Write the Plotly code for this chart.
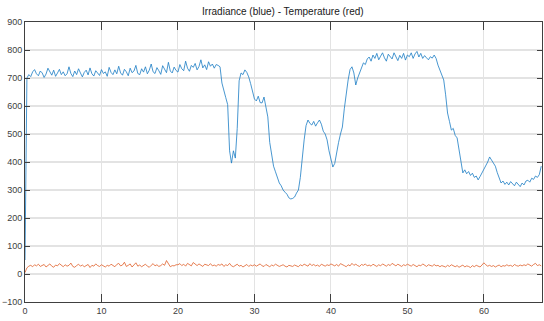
import plotly.graph_objects as go

# time axis (step 0.25 from 0 to 67.5)
time = [i * 0.25 for i in range(271)]

irradiance = [
    50, 700, 712, 705, 722, 730, 715, 708, 725, 718, 702, 714, 735, 720, 710, 728, 706, 718, 731, 712,
    722, 708, 715, 740, 716, 705, 725, 712, 733, 718, 704, 720, 728, 711, 736, 715, 707, 726, 719, 709,
    730, 716, 722, 706, 738, 720, 712, 729, 715, 742, 718, 710, 731, 722, 708, 735, 719, 725, 745, 716,
    712, 733, 721, 740, 715, 728, 750, 722, 716, 737, 726, 713, 744, 729, 719, 756, 725, 718, 739, 727,
    721, 748, 733, 726, 760, 735, 724, 745, 738, 752, 729, 741, 765, 736, 747, 730, 758, 742, 750, 735,
    748, 745, 740, 682, 660, 630, 605, 440, 396, 440, 414, 520, 690, 718, 712, 729, 720, 704, 680, 646,
    625, 618, 635, 612, 611, 632, 600, 561, 470, 418, 385, 365, 340, 325, 315, 300, 292, 285, 272, 268,
    270, 275, 289, 300, 345, 420, 479, 530, 550, 538, 532, 545, 528, 540, 550, 535, 510, 500, 479, 440,
    407, 382, 395, 440, 470, 500, 525, 590, 650, 693, 730, 740, 718, 675, 700, 718, 740, 754, 748, 768,
    775, 760, 782, 770, 788, 765, 778, 790, 772, 760, 785, 774, 768, 790, 778, 762, 781, 770, 788, 764,
    782, 776, 790, 770, 786, 795, 775, 788, 770, 780, 772, 765, 776, 771, 782, 770, 746, 730, 710, 693,
    640, 575, 545, 514, 520, 495, 486, 440, 395, 361, 372, 358, 366, 352, 360, 345, 350, 336, 348, 360,
    372, 385, 400, 418, 408, 395, 385, 362, 340, 325, 332, 320, 328, 318, 330, 322, 315, 328, 320, 312,
    325, 318, 332, 335, 328, 342, 338, 350, 345, 355, 385,
]

temperature = [
    5, 22, 28, 31, 26, 33, 29, 35, 27, 30, 34, 25, 31, 36, 28, 24, 32, 29, 37, 30,
    26, 33, 28, 31, 39, 27, 24, 30, 35, 28, 32, 26, 29, 34, 23, 31, 28, 36, 30, 27,
    33, 29, 25, 31, 28, 35, 30, 26, 34, 38, 29, 32, 42, 27, 31, 36, 25, 33, 40, 28,
    32, 26, 30, 35, 28, 24, 31, 37, 29, 33, 27, 30, 36, 31, 48, 34, 26, 30, 29, 33,
    33, 37, 30, 35, 28, 38, 32, 29, 41, 34, 30, 36, 31, 27, 35, 33, 30, 37, 29, 32,
    28, 34, 31, 36, 27, 33, 30, 38, 29, 26, 32, 35, 28, 31, 25, 30, 34, 27, 32, 29,
    33, 28, 31, 36, 29, 27, 34, 30, 26, 32, 29, 35, 31, 27, 30, 33, 28, 25, 31, 29,
    27, 32, 30, 26, 33, 29, 35, 31, 28, 37, 30, 34, 29, 32, 27, 35, 31, 28, 33, 30,
    36, 31, 29, 34, 28, 37, 32, 30, 26, 33, 29, 38, 31, 35, 30, 27, 34, 31, 36, 29,
    32, 28, 35, 30, 27, 33, 29, 36, 31, 28, 34, 30, 38, 32, 29, 35, 31, 27, 33, 30,
    35, 31, 28, 34, 30, 26, 32, 29, 36, 31, 27, 33, 30, 28, 34, 29, 31, 26, 30, 28,
    25, 31, 27, 33, 29, 26, 30, 24, 28, 32, 25, 29, 27, 23, 30, 26, 31, 28, 25, 32,
    40, 33, 28, 31, 27, 30, 25, 29, 32, 26, 30, 28, 33, 29, 31, 27, 34, 30, 28, 32,
    29, 33, 30, 36, 31, 28, 34, 38, 30, 33, 29,
]

x_ticks = [0, 10, 20, 30, 40, 50, 60]
y_ticks = [-100, 0, 100, 200, 300, 400, 500, 600, 700, 800, 900]
title_text = "Irradiance (blue) - Temperature (red)"

fig = go.Figure()
fig.add_trace(go.Scatter(x=time, y=irradiance, mode="lines",
                         line=dict(color="#1a7cc4", width=0.8), showlegend=False))
fig.add_trace(go.Scatter(x=time, y=temperature, mode="lines",
                         line=dict(color="#E0602A", width=0.8), showlegend=False))

font_fam = "Liberation Sans Narrow, Liberation Sans, Arial, sans-serif"
axis_common = dict(
    showline=True, linecolor="#404040", linewidth=1, mirror="ticks",
    ticks="inside", tickcolor="#404040", showgrid=True, gridcolor="#e3e3e3",
    zeroline=False, tickfont=dict(family=font_fam, size=9, color="#404040"),
)

fig.update_layout(
    width=544, height=321,
    margin=dict(l=25, r=2, t=22, b=19),
    paper_bgcolor="white", plot_bgcolor="white",
    title=dict(text=title_text, x=0.52, xanchor="center", y=0.975, yanchor="top",
               font=dict(family=font_fam, size=10, color="#202020")),
    xaxis=dict(range=[0, 67.6], tickvals=x_ticks, ticklen=8, gridwidth=1, **axis_common),
    yaxis=dict(range=[-100, 900], tickvals=y_ticks, ticklen=5, gridwidth=1.5, **axis_common),
)

fig.write_html("out.html")
